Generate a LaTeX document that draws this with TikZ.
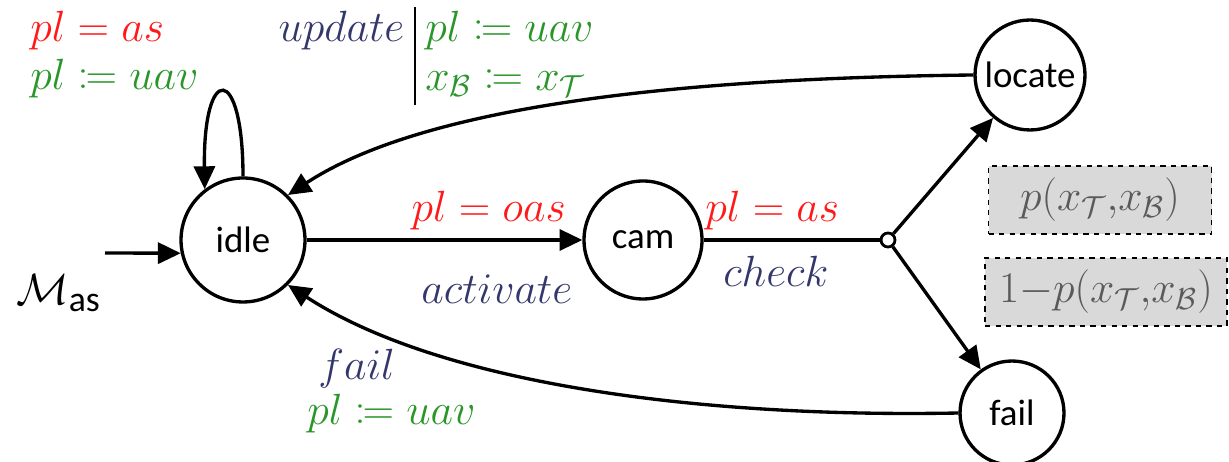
\documentclass[tikz,border=0pt]{standalone}
\usepackage{amsmath,mathtools}
\usepackage{fontspec}
\setsansfont{Carlito}
\definecolor{guardred}{HTML}{FF1A1A}
\definecolor{assigngreen}{HTML}{2A962A}
\definecolor{actionblue}{HTML}{33376B}
\definecolor{probgray}{HTML}{5A5A5A}
\usepackage{tikz}
\usetikzlibrary{arrows.meta}

\begin{document}
\begin{tikzpicture}[
  x=0.02cm, y=0.02cm,
  state/.style={draw,circle,line width=1.9pt,inner sep=0pt,font=\sffamily\fontsize{21}{24}\selectfont},
  junc/.style={draw,circle,fill=white,line width=1.6pt,minimum size=0.28cm,inner sep=0pt},
  lbl/.style={inner sep=0pt,font=\fontsize{25}{28}\selectfont},
  guard/.style={lbl,text=guardred},
  assign/.style={lbl,text=assigngreen},
  action/.style={lbl,text=actionblue},
  prob/.style={draw,dashed,fill=black!15,line width=0.9pt,text=probgray,inner sep=0pt,
               minimum height=1.37cm,font=\fontsize{25}{28}\selectfont},
  arrow/.style={-{Triangle[length=13pt,width=12pt]},line width=1.9pt}
]
  \useasboundingbox (0,0) rectangle (1229,462);

  \node[state,minimum size=2.48cm] (idle) at (243,222) {idle};
  \node[state,minimum size=2.36cm] (cam) at (643,222) {cam};
  \node[state,minimum size=2.2cm] (locate) at (1030,387) {locate};
  \node[state,minimum size=2.08cm] (fail) at (1012,49) {fail};
  \node[junc] (split) at (888,222) {};
  \coordinate (init) at (105,209);

  \node[lbl,anchor=base west,font=\fontsize{29}{32}\selectfont] (model) at (16,157) {$\mathcal{M}_{\textsf{as}}$};

  \draw[arrow] (init) -- (idle.192);
  \draw[arrow] (idle.90) .. controls (243,399) and (203,399) .. (idle.127);
  \draw[arrow] (idle) -- node[guard,above=5pt,pos=0.66] {$pl = oas$}
                         node[action,below=19pt,pos=0.69] {$activate$} (cam);
  \draw[line width=1.9pt] (cam) -- node[guard,above=5pt,pos=0.39] {$pl = as$}
                         node[action,below=8pt,pos=0.41] {$check$} (split);
  \draw[arrow] (split) -- (locate);
  \draw[arrow] (split) -- (fail);
  \draw[arrow] (locate.west) .. controls (700,384) and (430,360) .. (idle.45);
  \draw[arrow] (fail.west) .. controls (700,44) and (440,78) .. (idle.-45);

  % self loop on idle
  \node[guard,anchor=base west] (loopguard) at (30,420) {$pl = as$};
  \node[assign,anchor=base west] (loopassign) at (30,372) {$pl \coloneqq uav$};

  % locate -> idle
  \node[lbl] (update) at (436,406) {\setlength{\arrayrulewidth}{1pt}%
    \begin{tabular}{r|l}
      \color{actionblue}$update$ & \color{assigngreen}$pl \coloneqq uav$\\
      & \color{assigngreen}$x_{\mathcal{B}} \coloneqq x_{\mathcal{T}}$
    \end{tabular}};

  % fail -> idle
  \node[action,anchor=base west] (failact) at (318,82) {$fail$};
  \node[assign,anchor=base west] (failassign) at (307,37) {$pl \coloneqq uav$};

  \node[prob,minimum width=4.46cm] (psucc) at (1100,262) {$p(x_{\mathcal{T}}{,}x_{\mathcal{B}})$};
  \node[prob,minimum width=4.84cm] (pfail) at (1106,170) {$1{-}p(x_{\mathcal{T}}{,}x_{\mathcal{B}})$};
\end{tikzpicture}
\end{document}
